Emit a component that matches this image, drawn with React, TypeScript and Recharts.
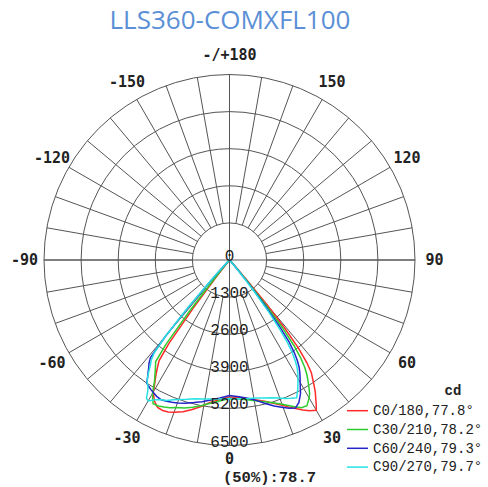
import React from 'react';
import { RadarChart, Radar, PolarGrid, PolarAngleAxis, PolarRadiusAxis } from 'recharts';

const angles = [-90, -70, -50, -45, -43, -42, -41, -40, -39, -38, -37, -36, -35, -34, -33, -32, -31, -30, -28, -26, -24, -22, -20, -17, -14, -11, -8, -4, 0, 4, 8, 11, 14, 17, 20, 22, 24, 26, 28, 30, 31, 32, 33, 34, 35, 36, 37, 38, 39, 40, 41, 42, 43, 45, 50, 70, 90];

const c0 = [0, 0, 0, 10, 20, 20, 20, 50, 200, 800, 2100, 3600, 4300, 4500, 4700, 4900, 5100, 5350, 5600, 5750, 5770, 5740, 5680, 5560, 5400, 5230, 5050, 4900, 4800, 4830, 4920, 5000, 5100, 5250, 5420, 5560, 5700, 5850, 5980, 6080, 5900, 5700, 5520, 5300, 5080, 4880, 4500, 3950, 3100, 2000, 900, 300, 100, 50, 20, 0, 0];
const c30 = [0, 0, 0, 20, 30, 40, 100, 300, 900, 2300, 3700, 4400, 4520, 4650, 4800, 4950, 5150, 5400, 5700, 5690, 5640, 5580, 5500, 5420, 5320, 5200, 5080, 4950, 4850, 4880, 4950, 5030, 5120, 5230, 5380, 5500, 5630, 5760, 5780, 5580, 5450, 5250, 5050, 4850, 4600, 4250, 3750, 3000, 2000, 1000, 400, 150, 60, 30, 0, 0, 0];
const c60 = [0, 0, 30, 100, 350, 1000, 2200, 3500, 4400, 4580, 4700, 4850, 5000, 5190, 5240, 5280, 5320, 5350, 5420, 5450, 5420, 5380, 5330, 5250, 5150, 5060, 4960, 4850, 4750, 4800, 4900, 5020, 5180, 5350, 5500, 5600, 5680, 5550, 5300, 4950, 4800, 4650, 4480, 4250, 3950, 3550, 2900, 2000, 1100, 500, 200, 80, 40, 20, 0, 0, 0];
const c90 = [0, 0, 30, 120, 400, 1100, 2300, 3500, 4200, 4450, 4600, 4800, 5000, 5170, 5250, 5400, 5650, 5700, 5550, 5450, 5390, 5280, 5200, 5100, 5010, 4960, 4920, 4880, 4850, 4870, 4900, 4930, 4980, 5050, 5150, 5230, 5300, 5370, 5100, 4800, 4650, 4480, 4250, 3950, 3560, 3000, 2300, 1500, 800, 350, 150, 60, 30, 10, 0, 0, 0];

const seriesKeys = ['c0', 'c30', 'c60', 'c90'];
const seriesNames = ['C0/180,77.8°', 'C30/210,78.2°', 'C60/240,79.3°', 'C90/270,79.7°'];
const seriesColors = ['#ff2a2a', '#2ecc2e', '#2424c8', '#26e2e2'];

const radiusTicks = [0, 1300, 2600, 3900, 5200, 6500];
const angleTicks = [-150, -120, -90, -60, -30, 0, 30, 60, 90, 120, 150, 180];
const spokeAngles = Array.from({ length: 36 }, (_, i) => i * 10);
const crossAngles = [0, 90, 180, 270];

const title = 'LLS360-COMXFL100';
const unitLabel = 'cd';
const halfAngleLabel = '(50%):78.7';

const data = angles.map((a, i) => ({ angle: a, c0: c0[i], c30: c30[i], c60: c60[i], c90: c90[i] }));

const W = 488;
const H = 487;
const CX = 229.5;
const CY = 260;
const R = 185.5;

const AngleTick = (props: any) => {
  const { x, y, payload } = props;
  const v = payload.value;
  const label = v === 180 ? '-/+180' : v === -180 ? '' : String(v);
  const dy = v === 0 ? -6 : 0;
  return (
    <text x={x} y={y + dy} textAnchor="middle" dominantBaseline="central" fill="#222" fontFamily="'DejaVu Sans Mono', monospace" fontWeight="bold" fontSize={15}>
      {label}
    </text>
  );
};

const RadiusTick = (props: any) => {
  const { x, y, payload } = props;
  return (
    <text x={x} y={y + 1} textAnchor="middle" fill="#222" fontFamily="'Liberation Mono', monospace" fontSize={16}>
      {payload.value}
    </text>
  );
};

export default function App() {
  return (
    <div style={{ position: 'absolute', left: 0, top: 0, width: W, height: H, background: '#fff' }}>
      <div style={{ position: 'absolute', left: 0, top: 0 }}>
        <RadarChart width={W} height={H} data={data} cx={CX} cy={CY} innerRadius={37.1} outerRadius={R} startAngle={90} endAngle={450} margin={{ top: 0, right: 0, bottom: 0, left: 0 }}>
          <PolarGrid gridType="circle" polarAngles={spokeAngles} polarRadius={[]} stroke="#555" strokeWidth={1} />
        </RadarChart>
      </div>
      <div style={{ position: 'absolute', left: 0, top: 0 }}>
        <RadarChart width={W} height={H} data={data} cx={CX} cy={CY} innerRadius={0} outerRadius={R} startAngle={90} endAngle={450} margin={{ top: 0, right: 0, bottom: 0, left: 0 }}>
          <PolarGrid gridType="circle" polarAngles={crossAngles} stroke="#555" strokeWidth={1} />
          <PolarAngleAxis dataKey="angle" type="number" domain={[-180, 180]} ticks={angleTicks as any} tickCount={13} axisLine={false} tickLine={false} tickSize={19.5} tick={AngleTick} />
          <PolarRadiusAxis type="number" domain={[0, 6500]} ticks={radiusTicks as any} tickCount={6} angle={270} axisLine={false} tickLine={false} tick={RadiusTick} orientation="middle" />
          {seriesKeys.map((k, i) => (
            <Radar key={k} dataKey={k} name={seriesNames[i]} stroke={seriesColors[i]} strokeWidth={1.5} fill="none" fillOpacity={0} dot={false} isAnimationActive={false} />
          ))}
        </RadarChart>
      </div>
      <svg width={W} height={H} style={{ position: 'absolute', left: 0, top: 0, pointerEvents: 'none' }}>
        <text x={230} y={29} textAnchor="middle" fill="#5b8fd6" fontFamily="'Open Sans', sans-serif" fontSize={26}>{title}</text>
        <text x={223} y={478} dominantBaseline="central" fill="#222" fontFamily="'Liberation Mono', monospace" fontWeight="bold" fontSize={15.5}>{halfAngleLabel}</text>
        <text x={453} y={391} textAnchor="middle" dominantBaseline="central" fill="#222" fontFamily="'Liberation Mono', monospace" fontWeight="bold" fontSize={14}>{unitLabel}</text>
        {seriesNames.map((n, i) => (
          <g key={n}>
            <line x1={347} x2={368} y1={410.7 + i * 18.8} y2={410.7 + i * 18.8} stroke={seriesColors[i]} strokeWidth={1.5} />
            <text x={373} y={411 + i * 18.8} dominantBaseline="central" fill="#222" fontFamily="'Liberation Mono', monospace" fontSize={14}>{n}</text>
          </g>
        ))}
      </svg>
    </div>
  );
}
